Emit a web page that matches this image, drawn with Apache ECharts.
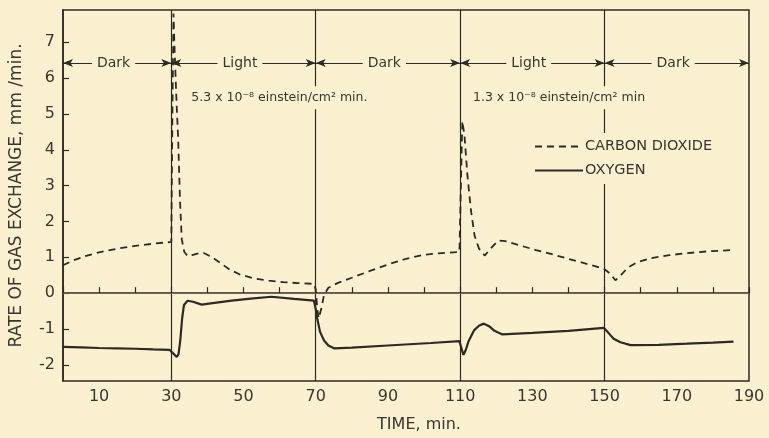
<!DOCTYPE html>
<html><head><meta charset="utf-8">
<script src="https://cdn.jsdelivr.net/npm/echarts@6/dist/echarts.min.js"></script>
<style>html,body{margin:0;padding:0;background:#fbf1d1;}#c{width:769px;height:438px;}</style>
</head><body><div id="c"></div>
<script>
// ---- data ----
const co2 = [[0,0.78],[3,0.92],[6,1.03],[10,1.14],[15,1.24],[20,1.32],[25,1.38],[30,1.43],[30.3,5.0],[30.6,7.8],[31.0,6.5],[31.5,5.2],[31.9,4.3],[32.4,2.6],[32.9,1.5],[33.6,1.15],[34.6,1.03],[36,1.07],[37.5,1.11],[39,1.12],[41,1.02],[43.5,0.85],[46,0.67],[49,0.52],[53,0.41],[57,0.35],[61,0.31],[65,0.28],[69.5,0.26],[70,0.1],[70.4,-0.4],[70.8,-0.7],[71.5,-0.45],[72.3,-0.05],[73.5,0.15],[76,0.28],[80,0.43],[85,0.62],[90,0.8],[95,0.96],[100,1.07],[105,1.12],[109.8,1.15],[110.2,3.0],[110.6,4.8],[111.2,4.4],[112,3.3],[113,2.3],[114,1.6],[115.2,1.25],[116.8,1.05],[118.5,1.25],[120.5,1.47],[122.5,1.45],[126,1.35],[131,1.2],[136,1.07],[141,0.93],[146,0.79],[149.8,0.68],[151.5,0.55],[153,0.36],[154.5,0.5],[156.5,0.72],[159,0.86],[163,0.98],[168,1.06],[173,1.12],[179,1.17],[185,1.2]];
const o2 = [[0,-1.5],[5,-1.51],[10,-1.53],[15,-1.54],[20,-1.55],[25,-1.57],[29.5,-1.58],[30.5,-1.68],[31.5,-1.78],[32,-1.7],[32.5,-1.3],[33,-0.7],[33.5,-0.33],[34.5,-0.21],[36,-0.24],[38.4,-0.32],[42,-0.27],[46.7,-0.21],[52,-0.15],[57.7,-0.1],[64,-0.16],[69.5,-0.21],[70,-0.45],[70.5,-0.75],[71.2,-1.08],[72.3,-1.32],[73.5,-1.46],[75.2,-1.54],[80,-1.52],[90,-1.46],[101.9,-1.39],[109.8,-1.34],[110.4,-1.55],[110.9,-1.72],[111.5,-1.6],[112.3,-1.35],[113.9,-1.03],[115.3,-0.9],[116.6,-0.85],[118,-0.92],[119.5,-1.05],[121.7,-1.15],[130,-1.11],[140,-1.05],[149.8,-0.97],[151,-1.1],[152.5,-1.27],[154.4,-1.37],[157.2,-1.45],[165,-1.44],[172.8,-1.41],[180,-1.38],[185.7,-1.35]];
const seriesNames = ['CARBON DIOXIDE','OXYGEN'];
const yTicks = [-2,-1,0,1,2,3,4,5,6,7];
const phaseBounds = [0,30,70,110,150,190];
const phaseNames = ['Dark','Light','Dark','Light','Dark'];
const switchTimes = [30,70,110,150];
const intensityNotes = [[35,'5.3 x 10⁻⁸ einstein/cm² min.'],[113,'1.3 x 10⁻⁸ einstein/cm² min']];
const arrowY = 6.42, noteY = 5.45;

const BG = '#fbf1d1', INK = '#2e2924', TXT = '#3a352f';
const FONT = 'DejaVu Sans';

const chart = echarts.init(document.getElementById('c'), null, {renderer:'canvas'});

const vLines = switchTimes.map(t => ({xAxis: t}));
const arrows = phaseNames.map((n,i) => [
  {coord:[phaseBounds[i], arrowY], symbol:'arrow'},
  {coord:[phaseBounds[i+1], arrowY], symbol:'arrow'}
]);
const phaseLabels = phaseNames.map((n,i) => ({
  coord:[(phaseBounds[i]+phaseBounds[i+1])/2 - 1, arrowY],
  label:{show:true, position:'inside', formatter:n, color:TXT, fontFamily:FONT, fontSize:14, backgroundColor:BG, padding:[1,5]}
}));
const noteLabels = intensityNotes.map(([x,t]) => ({
  coord:[x,noteY],
  label:{show:true, position:'right', distance:0, formatter:t, color:TXT, fontFamily:FONT, fontSize:12.5, backgroundColor:BG, padding:[5,2]}
}));

chart.setOption({
  backgroundColor: BG,
  animation: false,
  textStyle: {fontFamily: FONT},
  grid: {left:60, right:20, top:10, bottom:52, show:true, borderColor:INK, borderWidth:1.5, backgroundColor:'transparent'},
  legend: {
    data: seriesNames, orient:'vertical', left:528, top:133, z:20,
    itemWidth:48, itemHeight:10, itemGap:9, backgroundColor:BG, padding:[6,6],
    itemStyle:{color:'rgba(0,0,0,0)', borderWidth:0},
    textStyle:{fontFamily:FONT, fontSize:14.5, color:TXT, padding:[0,0,0,-3]}
  },
  xAxis: {
    type:'value', min:0, max:190, interval:10,
    name:'TIME, min.', nameLocation:'middle', nameGap:36,
    nameTextStyle:{fontFamily:FONT, fontSize:16, color:TXT, padding:[0,0,0,26]},
    axisLine:{show:true, lineStyle:{color:INK, width:1.5}},
    axisTick:{show:true, inside:true, length:6, lineStyle:{color:INK, width:1.2}},
    axisLabel:{color:TXT, fontSize:16, margin:8, fontFamily:FONT,
      formatter: v => (Math.round(v/10) % 2 === 1 ? String(v) : '')},
    splitLine:{show:false}
  },
  yAxis: {
    type:'value', min:-2.45, max:7.9,
    name:'RATE OF GAS EXCHANGE, mm /min.', nameLocation:'middle', nameGap:38, nameRotate:90,
    nameTextStyle:{fontFamily:FONT, fontSize:17, color:TXT},
    axisLine:{show:true, lineStyle:{color:INK, width:1.5}},
    axisTick:{show:true, inside:true, length:6, customValues:yTicks, lineStyle:{color:INK, width:1.2}},
    axisLabel:{color:TXT, fontSize:16, margin:8, fontFamily:FONT, customValues:yTicks,
      formatter: v => String(v)},
    splitLine:{show:false}
  },
  series: [
    {
      name: seriesNames[0], type:'line', data: co2, symbol:'none', smooth:false, z:3,
      lineStyle:{color:INK, width:1.8, type:[7,5]}, itemStyle:{color:INK},
      markPoint:{
        z:12, silent:true, symbol:'circle', symbolSize:0,
        data: [...noteLabels, ...phaseLabels]
      }
    },
    {
      name: seriesNames[1], type:'line', data: o2, symbol:'none', smooth:false, z:3,
      lineStyle:{color:INK, width:2.2}, itemStyle:{color:INK},
      markLine:{
        silent:true, z:2, symbol:['none','none'], symbolSize:[6,10], animation:false,
        lineStyle:{color:INK, width:1.2, type:'solid'}, label:{show:false},
        data: [...vLines, {yAxis:0, lineStyle:{color:'#6b645b', width:1}}, ...arrows]
      }
    }
  ]
});
</script></body></html>
